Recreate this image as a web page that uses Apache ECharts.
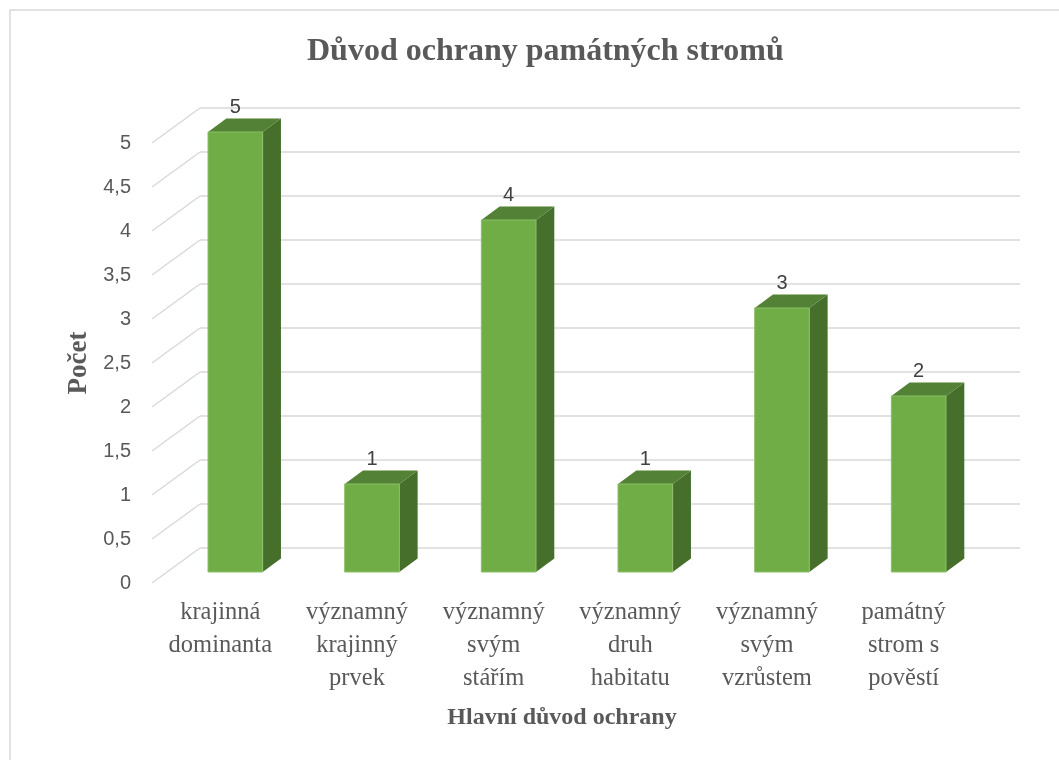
<!DOCTYPE html>
<html>
<head>
    <meta charset="utf-8">
    <title>Důvod ochrany památných stromů</title>
    <script src="https://cdn.jsdelivr.net/npm/echarts@6/dist/echarts.min.js"></script>
    <style>
        html, body { margin: 0; padding: 0; background: #fff; }
        #main { width: 1059px; height: 760px; }
    </style>
</head>
<body>
<div id="main"></div>
<script type="text/javascript">
    // data
    var categories = ['krajinná\ndominanta', 'významný\nkrajinný\nprvek', 'významný\nsvým\nstářím',
        'významný\ndruh\nhabitatu', 'významný\nsvým\nvzrůstem', 'památný\nstrom s\npověstí'];
    var counts = [5, 1, 4, 1, 3, 2];
    var yTicks = [0, 0.5, 1, 1.5, 2, 2.5, 3, 3.5, 4, 4.5, 5];

    // 3D offsets (pixels) relative to the back wall
    var WALL_DX = -48, WALL_DY = 35;     // front edge of floor / side wall
    var FRONT_DX = -33, FRONT_DY = 24;   // bar front face
    var DEPTH_DX = 18.3, DEPTH_DY = 13.4; // bar depth

    var serif = '"Liberation Serif", "Times New Roman", serif';
    var sans = '"Liberation Sans", Arial, sans-serif';

    var myChart = echarts.init(document.getElementById('main'));

    function renderBar(params, api) {
        var i = api.value(0), v = api.value(1);
        var top = api.coord([i, v]);
        var base = api.coord([i, 0]);
        var w = api.size([1, 0])[0] * 0.4;
        var x = top[0] + FRONT_DX - w / 2;
        var yt = top[1] + FRONT_DY;
        var yb = base[1] + FRONT_DY;
        return {
            type: 'group',
            children: [
                {
                    type: 'polygon',
                    shape: { points: [[x + w, yt], [x + w + DEPTH_DX, yt - DEPTH_DY], [x + w + DEPTH_DX, yb - DEPTH_DY], [x + w, yb]] },
                    style: { fill: '#466f2c' }
                },
                {
                    type: 'polygon',
                    shape: { points: [[x, yt], [x + w, yt], [x + w + DEPTH_DX, yt - DEPTH_DY], [x + DEPTH_DX, yt - DEPTH_DY]] },
                    style: { fill: '#538135' }
                },
                {
                    type: 'rect',
                    shape: { x: x, y: yt, width: w, height: yb - yt },
                    style: { fill: '#70ad47', stroke: '#8cc068', lineWidth: 1 }
                },
                {
                    type: 'text',
                    style: {
                        text: String(v), x: x + w / 2, y: yt - 25, align: 'center', verticalAlign: 'middle',
                        fontSize: 20, fontFamily: sans, fill: '#404040'
                    }
                }
            ]
        };
    }

    function renderFloorLine(params, api) {
        var p = api.coord([0, api.value(0)]);
        var x0 = params.coordSys.x;
        return {
            type: 'line',
            shape: { x1: x0, y1: p[1], x2: x0 + WALL_DX, y2: p[1] + WALL_DY },
            style: { stroke: '#d9d9d9', lineWidth: 1.5 }
        };
    }

    var option = {
        animation: false,
        backgroundColor: '#ffffff',
        title: {
            text: 'Důvod ochrany památných stromů',
            left: 302,
            top: 31,
            textStyle: { fontFamily: serif, fontSize: 32, fontWeight: 'bold', color: '#595959' }
        },
        graphic: [{
            type: 'rect',
            shape: { x: 10, y: 10, width: 1100, height: 800 },
            style: { fill: 'none', stroke: '#d9d9d9', lineWidth: 1.5 },
            silent: true
        }],
        grid: [
            // back wall
            { left: 200, top: 108, width: 820, height: 440 },
            // front plane, carries the labels
            { left: 152, top: 143, width: 820, height: 440 }
        ],
        xAxis: [
            {
                type: 'category', gridIndex: 0, data: categories,
                axisLine: { show: false }, axisTick: { show: false }, axisLabel: { show: false }
            },
            {
                type: 'category', gridIndex: 1, data: categories,
                axisLine: { show: false }, axisTick: { show: false },
                axisLabel: { interval: 0, margin: 13, fontFamily: serif, fontSize: 24.5, lineHeight: 33, color: '#595959' },
                name: 'Hlavní důvod ochrany', nameLocation: 'middle', nameGap: 123,
                nameTextStyle: { fontFamily: serif, fontSize: 24, fontWeight: 'bold', color: '#595959' }
            }
        ],
        yAxis: [
            {
                type: 'value', gridIndex: 0, min: 0, max: 5, interval: 0.5,
                axisLine: { show: false }, axisTick: { show: false }, axisLabel: { show: false },
                splitLine: { lineStyle: { color: '#d9d9d9', width: 1.5 } }
            },
            {
                type: 'value', gridIndex: 1, min: 0, max: 5, interval: 0.5,
                axisLine: { show: false }, axisTick: { show: false }, splitLine: { show: false },
                axisLabel: {
                    margin: 21, fontFamily: sans, fontSize: 20, color: '#595959',
                    formatter: function (v) { return String(v).replace('.', ','); }
                },
                name: 'Počet', nameLocation: 'middle', nameGap: 58, nameRotate: 90,
                nameTextStyle: { fontFamily: serif, fontSize: 27, fontWeight: 'bold', color: '#595959' }
            }
        ],
        series: [
            {
                type: 'custom', xAxisIndex: 0, yAxisIndex: 0,
                renderItem: renderFloorLine,
                data: yTicks.map(function (t) { return [t]; }),
                encode: { y: 0 },
                silent: true, z: 1
            },
            {
                type: 'custom', xAxisIndex: 0, yAxisIndex: 0,
                renderItem: renderBar,
                data: counts.map(function (c, i) { return [i, c]; }),
                encode: { x: 0, y: 1 },
                z: 2
            }
        ]
    };

    myChart.setOption(option);
</script>
</body>
</html>
